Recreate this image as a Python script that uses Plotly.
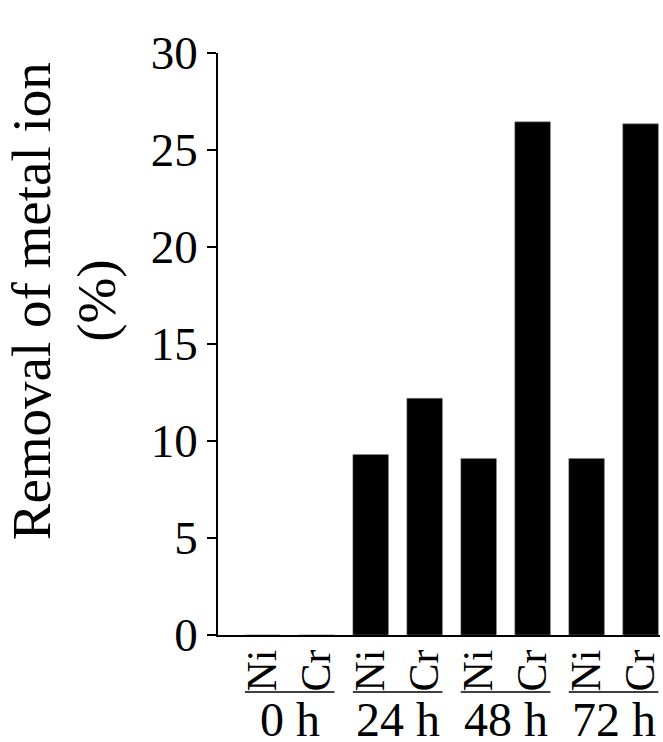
import plotly.graph_objects as go

# ---- data ----
groups = ["0 h", "24 h", "48 h", "72 h"]
metals = ["Ni", "Cr"]
ni_removal = [0.0, 9.3, 9.1, 9.1]
cr_removal = [0.0, 12.2, 26.45, 26.35]
y_ticks = [0, 5, 10, 15, 20, 25, 30]
y_title_line1 = "Removal of metal ion"
y_title_line2 = "(%)"

# ---- build category positions ----
values = []
labels = []
positions = []
for gi, g in enumerate(groups):
    for mi, m in enumerate(metals):
        positions.append(gi * len(metals) + mi)
        labels.append(m)
        values.append(ni_removal[gi] if m == "Ni" else cr_removal[gi])

BAR_W = 0.66
FONT = "Liberation Serif, Times New Roman, serif"

fig = go.Figure()
fig.add_trace(go.Bar(
    x=positions, y=values, width=BAR_W,
    marker=dict(color="black", line=dict(color="#888888", width=0.5)),
    showlegend=False,
))

shapes = []
annotations = []
for gi, g in enumerate(groups):
    x0 = gi * len(metals) - BAR_W / 2
    x1 = gi * len(metals) + len(metals) - 1 + BAR_W / 2
    shapes.append(dict(type="line", xref="x", yref="paper", x0=x0, x1=x1,
                       y0=-0.098, y1=-0.098, line=dict(color="black", width=1.5)))
    annotations.append(dict(xref="x", yref="paper",
                            x=gi * len(metals) + (len(metals) - 1) / 2, y=-0.145,
                            text=g, showarrow=False, xanchor="center", yanchor="middle",
                            font=dict(family=FONT, size=48, color="black")))

annotations.append(dict(xref="paper", yref="paper", x=-0.42, y=0.574,
                        text=y_title_line1, textangle=-90, showarrow=False,
                        xanchor="center", yanchor="middle",
                        font=dict(family=FONT, size=55, color="black")))
annotations.append(dict(xref="paper", yref="paper", x=-0.274, y=0.574,
                        text=y_title_line2, textangle=-90, showarrow=False,
                        xanchor="center", yanchor="middle",
                        font=dict(family=FONT, size=55, color="black")))

fig.update_layout(
    width=663, height=742,
    margin=dict(l=218, r=0, t=53, b=107),
    paper_bgcolor="white", plot_bgcolor="white",
    shapes=shapes, annotations=annotations,
    xaxis=dict(range=[-0.828, 7.36], tickvals=positions, ticktext=labels,
               tickangle=-90, showgrid=False, zeroline=False,
               showline=True, linecolor="black", linewidth=1.5,
               ticks="", ticklabelstandoff=-4, ticklabeloverflow="allow",
               tickfont=dict(family=FONT, size=42, color="black")),
    yaxis=dict(range=[0, 30], tickvals=y_ticks, showgrid=False, zeroline=False,
               showline=True, linecolor="black", linewidth=1.5,
               ticks="outside", ticklen=9, tickwidth=1.5, tickcolor="black",
               tickfont=dict(family=FONT, size=47, color="black")),
    bargap=0.34,
)

fig.write_html(
    "out.html",
    config={"displayModeBar": False},
    post_script="document.body.style.margin='0';document.body.style.overflow='hidden';",
)
